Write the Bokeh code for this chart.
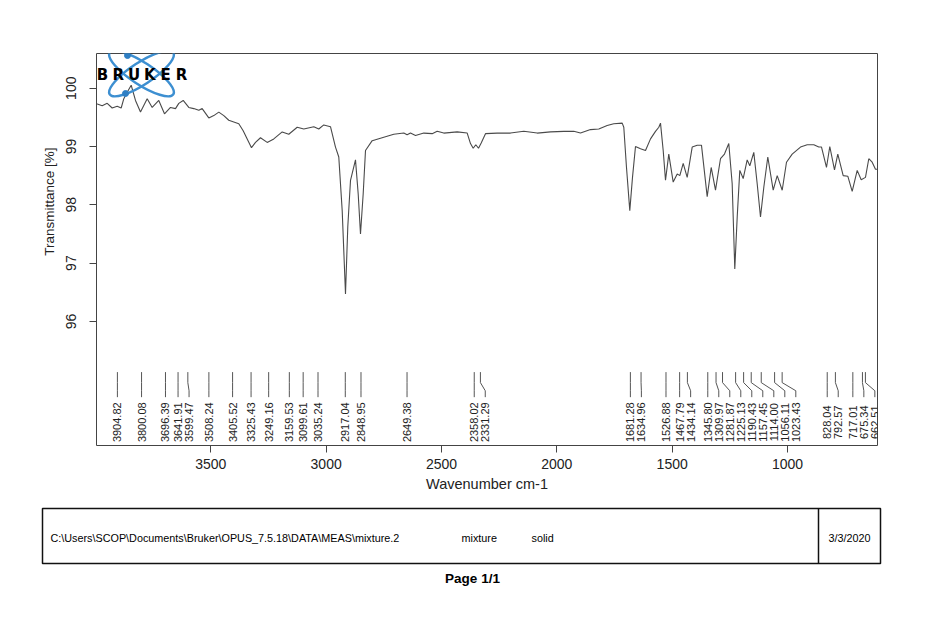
import math
from bokeh.plotting import figure
from bokeh.models import Range1d, FixedTicker, Title
from bokeh.embed import file_html
from bokeh.resources import INLINE
from bokeh.core.properties import value

# ---------------- data ----------------
wavenumber = [
    3995, 3992, 3970.7, 3949, 3927.4, 3905.7, 3888.4, 3877, 3862.4, 3845, 3826.4, 3804.7,
    3775.7, 3754, 3725.4, 3700.7, 3674.7, 3653, 3638.7, 3619.6, 3595.4, 3573.7, 3552,
    3537.3, 3508.7, 3487, 3465.3, 3443.6, 3422, 3400.3, 3378.6, 3359.6, 3342.2, 3323.6,
    3306.2, 3284.6, 3255.5, 3226.9, 3190.5, 3161.9, 3125.5, 3096.9, 3053.5, 3031.9,
    3010.2, 2981.2, 2959.5, 2945.2, 2930.4, 2916.1, 2906.2, 2894.4, 2872.8, 2861.1,
    2851.1, 2839.4, 2829.4, 2800.4, 2750.1, 2706.8, 2663.4, 2649, 2634.4, 2612.7,
    2576.7, 2540.3, 2518.7, 2490, 2432, 2388.6, 2374.3, 2362.6, 2351.3, 2339.6, 2327.9,
    2309.3, 2258.6, 2200.9, 2143.3, 2085.2, 2027.5, 1969.9, 1926.5, 1897.5, 1854.1,
    1818.2, 1781.8, 1753.2, 1716.7, 1709.8, 1698.1, 1683.8, 1672.1, 1659.1, 1637.4,
    1615.7, 1594, 1572.4, 1558, 1550.7, 1539, 1529, 1514.8, 1495.7, 1478.3, 1467,
    1452.3, 1435, 1413.3, 1391.6, 1373, 1348.3, 1331, 1312.3, 1290.7, 1273.4, 1254.7,
    1240, 1228.7, 1218.2, 1207, 1192.3, 1175, 1163.6, 1146.3, 1131.6, 1117.3, 1102.9,
    1085.6, 1062.2, 1044.8, 1023.2, 1004.6, 979.9, 943.9, 914.8, 886.2, 864.5, 852.8,
    831.2, 816.9, 796.5, 782.2, 758.8, 738.9, 719.8, 698.1, 680.8, 662.2, 647.9, 633.2,
    618.9, 604.6,
]
transmittance = [
    99.73, 99.73, 99.70, 99.74, 99.66, 99.69, 99.66, 99.82, 99.93, 100.05, 99.79, 99.59,
    99.82, 99.67, 99.79, 99.56, 99.67, 99.65, 99.74, 99.79, 99.67, 99.65, 99.62,
    99.65, 99.49, 99.53, 99.59, 99.53, 99.45, 99.42, 99.39, 99.27, 99.13, 98.98,
    99.07, 99.15, 99.07, 99.13, 99.25, 99.21, 99.33, 99.30, 99.34, 99.30,
    99.37, 99.34, 98.99, 98.82, 97.90, 96.47, 97.62, 98.42, 98.77, 98.19,
    97.50, 98.19, 98.93, 99.10, 99.16, 99.21, 99.23, 99.20, 99.23, 99.19,
    99.23, 99.22, 99.26, 99.23, 99.25, 99.23, 99.05, 98.97, 99.03, 98.97, 99.06,
    99.22, 99.23, 99.23, 99.26, 99.23, 99.25, 99.26, 99.26, 99.23, 99.29,
    99.30, 99.36, 99.39, 99.40, 99.33, 98.64, 97.90, 98.47, 99.00, 98.96,
    98.93, 99.13, 99.26, 99.33, 99.40, 98.93, 98.42, 98.87, 98.39, 98.53, 98.50,
    98.71, 98.47, 98.99, 99.02, 99.02, 98.14, 98.64, 98.25, 98.79, 98.87, 99.05,
    98.36, 96.90, 97.79, 98.59, 98.45, 98.77, 98.67, 98.90, 98.36, 97.79, 98.30,
    98.82, 98.25, 98.50, 98.25, 98.73, 98.87, 98.99, 99.03, 99.03, 98.99, 98.99,
    98.64, 99.00, 98.60, 98.87, 98.50, 98.49, 98.23, 98.59, 98.43, 98.47, 98.79, 98.73,
    98.61, 98.61,
]
peak_wavenumbers = [
    3904.82, 3800.08, 3696.39, 3641.91, 3599.47, 3508.24, 3405.52, 3325.43, 3249.16,
    3159.53, 3099.61, 3035.24, 2917.04, 2848.95, 2649.38, 2358.02, 2331.29,
    1681.28, 1634.96, 1526.88, 1467.79, 1434.14, 1345.80, 1309.97, 1281.87, 1225.13,
    1190.43, 1157.45, 1114.00, 1056.11, 1023.43, 828.04, 792.57, 717.01, 675.34, 662.51,
]
peak_labels = ["%.2f" % w for w in peak_wavenumbers]
x_ticks = [3500, 3000, 2500, 2000, 1500, 1000]
y_ticks = [96, 97, 98, 99, 100]

x_title = "Wavenumber cm-1"
y_title = "Transmittance [%]"
file_path = r"C:\Users\SCOP\Documents\Bruker\OPUS_7.5.18\DATA\MEAS\mixture.2"
sample_name = "mixture"
sample_form = "solid"
date_text = "3/3/2020"
page_text = "Page 1/1"

FONT = "Liberation Sans"
INK = "#222222"

# ---------------- page geometry (pixels) ----------------
W, H_MAIN, H_FOOT = 944, 498, 112
FL, FR, FT, FB = 96, 877, 53, 445          # plot frame edges
X0, X1 = 3995.4, 610.1                      # wavenumber at frame left / right
Y0, Y1 = 100.595, 93.871                    # transmittance at frame top / bottom


def px_x(px):
    return X0 + (px - FL) * (X1 - X0) / (FR - FL)


def px_y(py):
    return Y0 + (py - FT) * (Y1 - Y0) / (FB - FT)


p = figure(width=W, height=H_MAIN,
           x_range=Range1d(X0, X1), y_range=Range1d(Y1, Y0),
           output_backend="svg", toolbar_location=None,
           min_border_left=FL, min_border_top=FT,
           min_border_right=W - FR, min_border_bottom=H_MAIN - FB)
p.background_fill_color = "white"
p.border_fill_color = "white"
p.grid.visible = False
p.outline_line_color = "#444444"
p.outline_line_width = 1

p.xaxis.ticker = FixedTicker(ticks=x_ticks)
p.yaxis.ticker = FixedTicker(ticks=y_ticks)
for ax in (p.xaxis, p.yaxis):
    ax.axis_line_color = None
    ax.major_tick_out = 7
    ax.major_tick_in = 0
    ax.minor_tick_out = 0
    ax.minor_tick_in = 0
    ax.major_tick_line_color = "#444444"
    ax.major_label_text_font = FONT
    ax.major_label_text_font_size = "14px"
    ax.major_label_text_color = INK
p.yaxis.major_label_orientation = "vertical"
p.yaxis.major_label_standoff = 13
p.xaxis.major_label_standoff = 6
p.xaxis.axis_label = x_title
p.xaxis.axis_label_text_font = FONT
p.xaxis.axis_label_text_font_size = "14.5px"
p.xaxis.axis_label_text_font_style = "normal"
p.xaxis.axis_label_text_color = INK
p.xaxis.axis_label_standoff = 4

# y title: placed off-centre (upper part of the axis) as in the reference
p.add_layout(Title(text=y_title, align="right", offset=94, standoff=14,
                   text_font=FONT, text_font_size="13.5px", text_font_style="normal",
                   text_color=INK), "left")

# spectrum
p.line(wavenumber, transmittance, line_color="#4a4a4a", line_width=1.1)

# peak annotation lines and labels (labels spread so they do not overlap)
min_gap = 47.7
label_w = []
for w in peak_wavenumbers:
    lw = w if not label_w else min(w, label_w[-1] - min_gap)
    label_w.append(lw)
xs = [[w, w, lw, lw] for w, lw in zip(peak_wavenumbers, label_w)]
ys = [[95.13, 94.95, 94.81, 94.70] for _ in peak_wavenumbers]
p.multi_line(xs, ys, line_color="#555555", line_width=1)
p.text(x=label_w, y=[94.27] * len(label_w), text=peak_labels, angle=math.pi / 2,
       text_align="center", text_baseline="middle",
       text_font=value(FONT), text_font_size="11px", text_color=INK)

# Bruker logo
lx, ly = px_x(141), px_y(73)
p.ellipse(x=[lx, lx], y=[ly, ly], width=76, height=22,
          width_units="screen", height_units="screen",
          angle=[0.58, -0.58], fill_color=None, line_color="#3d8fd1", line_width=2.5)
p.scatter(x=[px_x(127), px_x(125)], y=[px_y(55), px_y(93)], size=6, color="#2f7fc4")
letters = list("BRUKER")
p.text(x=[px_x(102 + 15.8 * i) for i in range(len(letters))], y=[px_y(74)] * len(letters),
       text=letters, text_align="center", text_baseline="middle",
       text_font=value("DejaVu Sans"), text_font_style="bold",
       text_font_size="15px", text_color="black")

# ---------------- footer (second root, pixel coordinates of the page) ----------------
f = figure(width=W, height=H_FOOT,
           x_range=Range1d(0, W), y_range=Range1d(H_MAIN + H_FOOT, H_MAIN),
           output_backend="svg", toolbar_location=None,
           x_axis_location=None, y_axis_location=None, min_border=0)
f.grid.visible = False
f.outline_line_color = None
f.background_fill_color = "white"
f.border_fill_color = "white"
f.quad(left=[42], right=[880], top=[508], bottom=[563], fill_color=None,
       line_color="#111111", line_width=1.5)
f.segment(x0=[818], y0=[508], x1=[818], y1=[563], line_color="#111111", line_width=1.5)
f.text(x=[50, 461, 531], y=[537, 537, 537], text=[file_path, sample_name, sample_form],
       text_align="left", text_baseline="middle",
       text_font=value(FONT), text_font_size="10.8px", text_color="black")
f.text(x=[849], y=[537], text=[date_text], text_align="center", text_baseline="middle",
       text_font=value(FONT), text_font_size="10.8px", text_color="black")
f.text(x=[472], y=[578], text=[page_text], text_align="center", text_baseline="middle",
       text_font=value(FONT), text_font_style="bold", text_font_size="13.5px",
       text_color="black")

open("out.html", "w").write(file_html([p, f], INLINE))
